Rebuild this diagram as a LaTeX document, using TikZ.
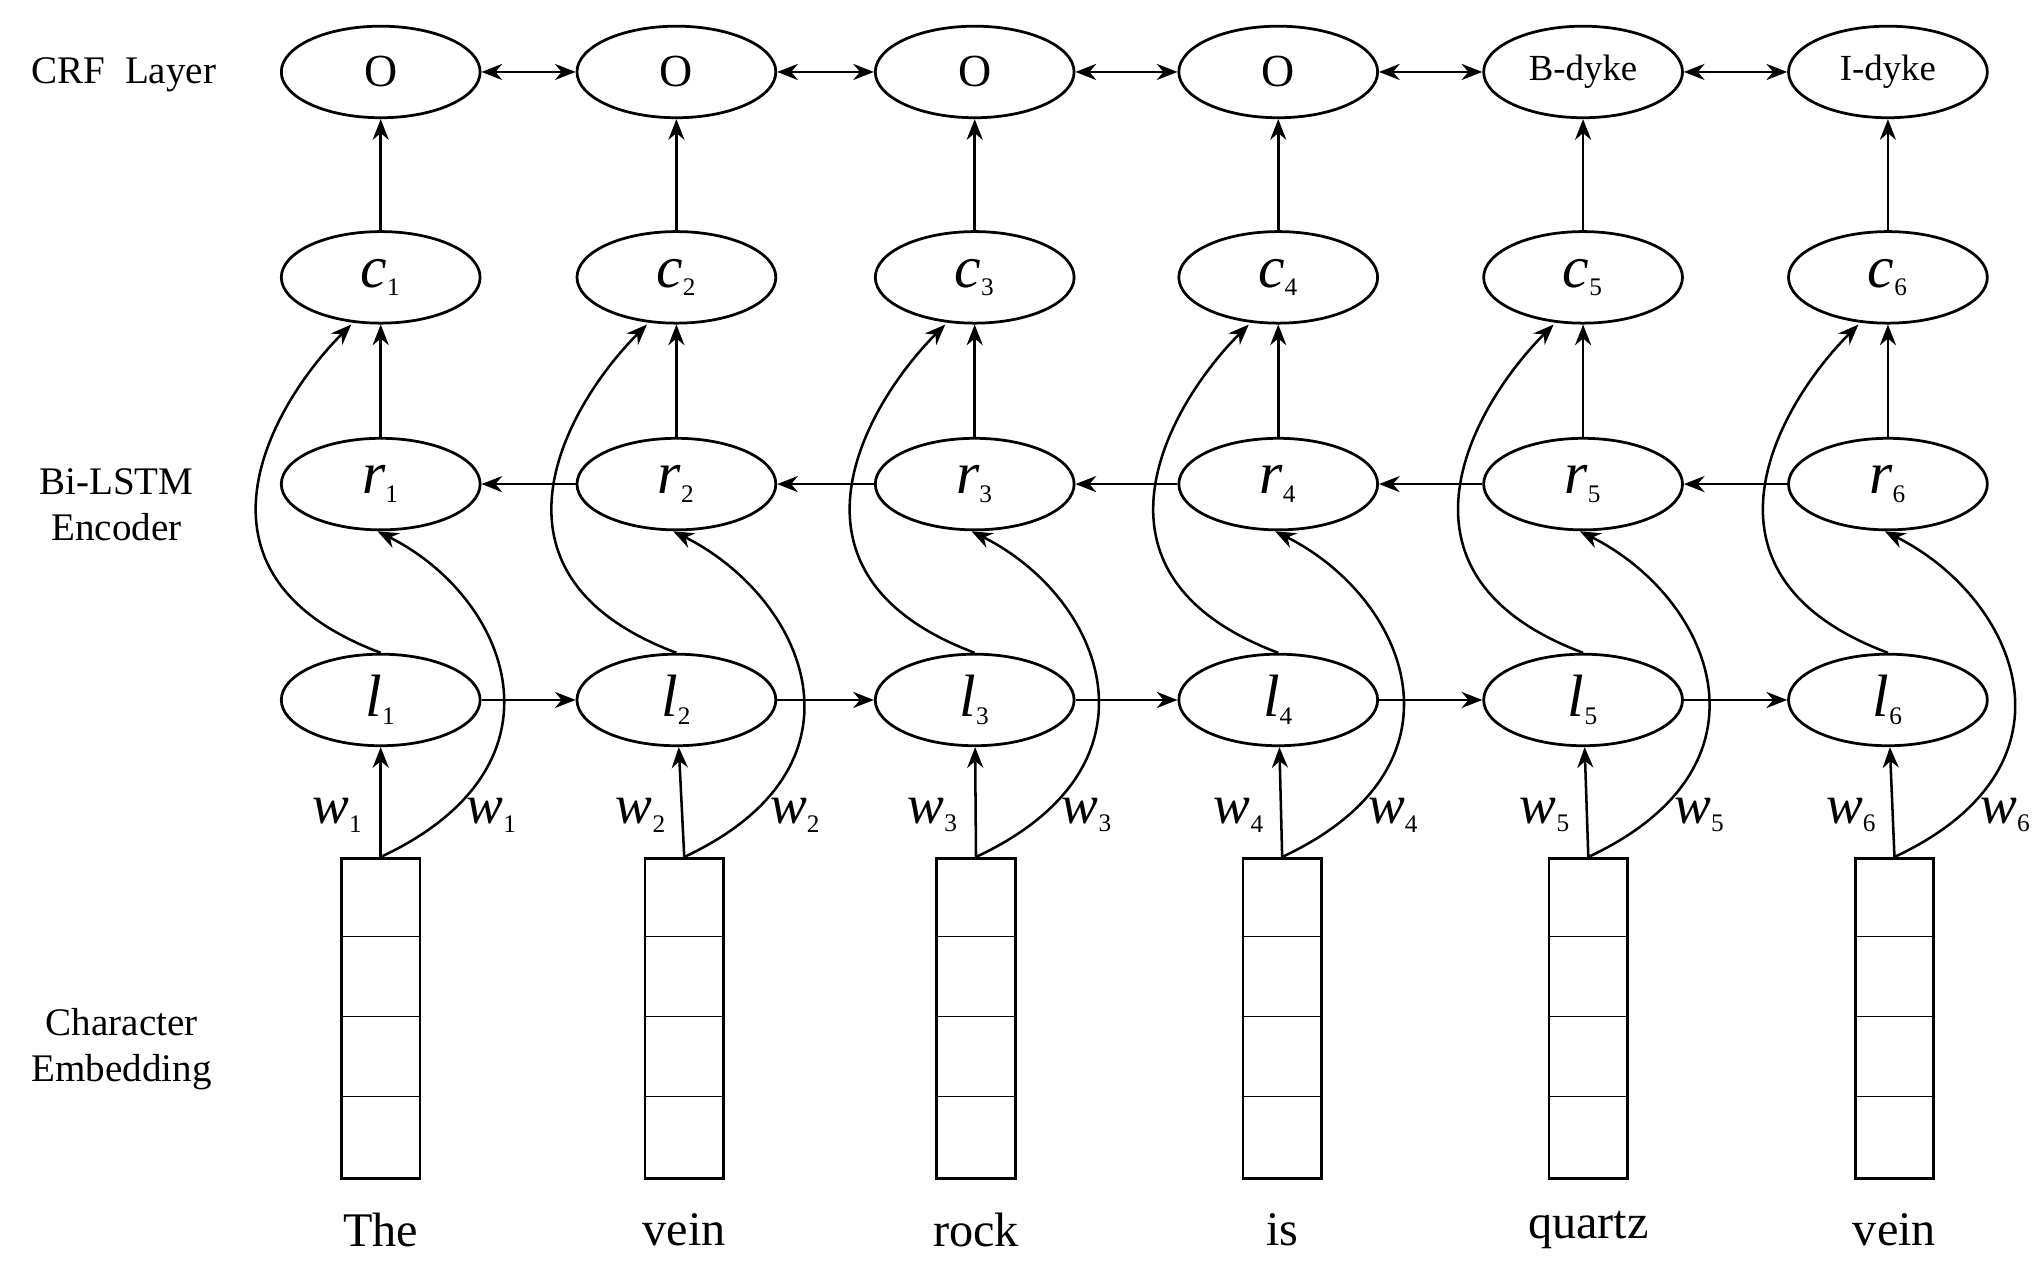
\documentclass[tikz,border=0pt]{standalone}
\usepackage{fontspec}
\setmainfont{Liberation Serif}
\usetikzlibrary{shapes.geometric,arrows.meta}
\begin{document}
\begin{tikzpicture}[x=0.02cm,y=-0.02cm,
 el/.style={ellipse,draw,line width=1.2pt,minimum width=3.04cm,minimum height=1.4cm,inner sep=0pt,font=\fontsize{20}{20}\selectfont},
 var/.style={el,font=\fontsize{26}{26}\selectfont\itshape},
 ar/.style={-{Stealth[length=9pt,width=7pt]},line width=1.1pt},
 dar/.style={{Stealth[length=9pt,width=7pt]}-{Stealth[length=9pt,width=7pt]},line width=1.1pt},
 lab/.style={font=\fontsize{17}{20}\selectfont,align=center},
 wl/.style={font=\fontsize{24}{24}\selectfont\itshape}]
\useasboundingbox (0,0) rectangle (1560,970);
\node[lab,anchor=west] (t1) at (18,57) {CRF\ \ Layer};
\node[lab] (t2) at (89,386) {Bi-LSTM\\Encoder};
\node[lab] (t3) at (93,802) {Character\\Embedding};
\foreach \i/\x/\bx/\o/\word/\fs in {1/291/291/O/The/20,2/517/523/O/vein/20,3/745/746/O/rock/20,4/977/980/O/is/20,5/1210/1214/B-dyke/quartz/16,6/1443/1448/I-dyke/vein/16}{
 \node[el,font=\fontsize{\fs}{\fs}\selectfont] (o\i) at (\x,55) {\o};
 \node[var] (c\i) at (\x,212) {c\textsubscript{\upshape\fontsize{11}{11}\selectfont\i}};
 \node[var] (r\i) at (\x,370) {r\textsubscript{\upshape\fontsize{11}{11}\selectfont\i}};
 \node[var] (l\i) at (\x,535) {l\textsubscript{\upshape\fontsize{11}{11}\selectfont\i}};
 \node[draw,line width=1.2pt,minimum width=1.2cm,minimum height=4.9cm,inner sep=0pt,anchor=north] (b\i) at (\bx,655) {};
 \foreach \k in {1,2,3} \draw[line width=0.5pt] ([yshift=-\k*1.22cm]b\i.north west) -- ([yshift=-\k*1.22cm]b\i.north east);
 \node[font=\fontsize{21}{21}\selectfont] (wd\i) at (\bx,940) {\word};
 \coordinate (bt\i) at (b\i.north);
 \draw[ar] (bt\i) -- (l\i);
 \draw[ar] (r\i) -- (c\i);
 \draw[ar] (c\i) -- (o\i);
 \draw[ar] (bt\i) .. controls +(150,-70) and +(100,50) .. ([xshift=-0.05cm]r\i.south);
 \draw[ar] (l\i.north) .. controls +(-160,-60) and +(-60,60) .. ([xshift=-0.45cm]c\i.south);
 \node[wl] (wa\i) at ([shift={(-33,-32)}]bt\i) {w\textsubscript{\upshape\fontsize{11}{11}\selectfont\i}};
 \node[wl] (wb\i) at ([shift={(85,-32)}]bt\i) {w\textsubscript{\upshape\fontsize{11}{11}\selectfont\i}};
}
\foreach \a/\b in {1/2,2/3,3/4,4/5,5/6}{
 \draw[dar] (o\a) -- (o\b);
 \draw[ar] (l\a) -- (l\b);
 \draw[ar] (r\b) -- (r\a);
}
\end{tikzpicture}
\end{document}
